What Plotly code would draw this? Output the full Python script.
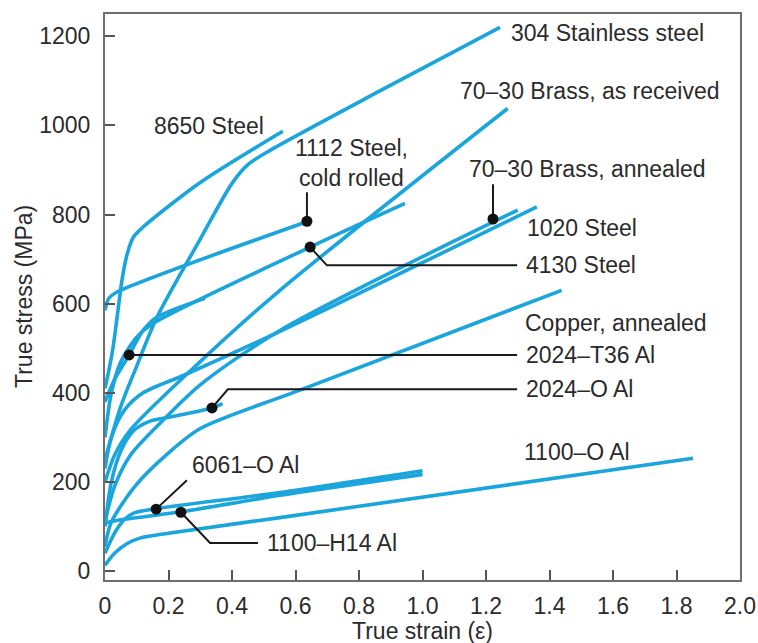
import plotly.graph_objects as go

# ---------------- data (true strain, true stress MPa) ----------------
s304_x = [0.0, 0.05, 0.10, 0.164, 0.30, 0.40, 0.45, 0.52, 0.87, 1.244]
s304_y = [250, 370, 460, 570, 745, 870, 912, 944, 1079, 1220]

s8650_x = [0.0, 0.012, 0.025, 0.04, 0.054, 0.07, 0.09, 0.12, 0.30, 0.56]
s8650_y = [410, 450, 500, 580, 655, 712, 750, 772, 872, 987]

s1112_x = [0.0, 0.012, 0.035, 0.64]
s1112_y = [585, 612, 625, 785]

brass_rec_x = [0.0, 0.03, 0.079, 0.3, 0.551, 1.268]
brass_rec_y = [200, 260, 316, 470, 630, 1038]

s4130_x = [0.0, 0.02, 0.05, 0.1, 0.15, 0.646, 0.945]
s4130_y = [300, 400, 470, 525, 555, 727, 825]

al2024t36_x = [0.0, 0.03, 0.076, 0.12, 0.164, 0.315]
al2024t36_y = [380, 430, 485, 540, 570, 612]

s1020_x = [0.0, 0.02, 0.06, 0.12, 0.25, 0.551, 1.36]
s1020_y = [230, 300, 360, 400, 440, 538, 817]

brass_ann_x = [0.0, 0.03, 0.08, 0.164, 0.3, 0.551, 1.30]
brass_ann_y = [110, 190, 260, 325, 418, 540, 810]

copper_x = [0.0, 0.02, 0.1, 0.195, 0.3, 0.614, 1.438]
copper_y = [55, 110, 195, 262, 320, 406, 630]

al2024o_x = [0.0, 0.02, 0.05, 0.09, 0.14, 0.2, 0.336, 0.37]
al2024o_y = [100, 200, 270, 315, 336, 345, 366, 376]

al6061o_x = [0.0, 0.03, 0.06, 0.09, 0.16, 0.55, 1.0]
al6061o_y = [40, 85, 115, 130, 140, 176, 225]

al1100h14_x = [0.0, 0.05, 0.24, 0.55, 1.0]
al1100h14_y = [108, 115, 133, 170, 217]

al1100o_x = [0.0, 0.03, 0.07, 0.11, 0.2, 0.551, 1.852]
al1100o_y = [13, 40, 62, 74, 85, 120, 253]

# marker dots on curves (strain, stress)
dot_x = [0.636, 0.646, 1.222, 0.076, 0.337, 0.161, 0.239]
dot_y = [785, 727, 790, 485, 366, 139, 132]

x_ticks = [0, 0.2, 0.4, 0.6, 0.8, 1.0, 1.2, 1.4, 1.6, 1.8, 2.0]
x_ticktext = ["0", "0.2", "0.4", "0.6", "0.8", "1.0", "1.2", "1.4", "1.6", "1.8", "2.0"]
y_ticks = [0, 200, 400, 600, 800, 1000, 1200]

# ---------------- figure ----------------
BLUE = "#1AA5DD"
TXT = "#2b2b2b"
FONT = "Liberation Sans, Arial, sans-serif"
FS = 23

curves = [
    (s304_x, s304_y), (s8650_x, s8650_y), (s1112_x, s1112_y),
    (brass_rec_x, brass_rec_y), (s4130_x, s4130_y), (al2024t36_x, al2024t36_y),
    (s1020_x, s1020_y), (brass_ann_x, brass_ann_y), (copper_x, copper_y),
    (al2024o_x, al2024o_y), (al6061o_x, al6061o_y), (al1100h14_x, al1100h14_y),
    (al1100o_x, al1100o_y),
]

fig = go.Figure()
for cx, cy in curves:
    fig.add_trace(go.Scatter(x=cx, y=cy, mode="lines",
                             line=dict(color=BLUE, width=3.6, shape="spline", smoothing=0.8),
                             hoverinfo="skip", showlegend=False))

# leader lines (data coords)
leaders = [
    ([0.636, 0.636], [785, 850]),
    ([0.646, 0.699, 1.298], [727, 686, 686]),
    ([1.222, 1.222], [790, 868]),
    ([0.076, 1.298], [485, 485]),
    ([0.337, 0.387, 1.298], [366, 408, 408]),
    ([0.161, 0.258], [139, 204]),
    ([0.239, 0.331, 0.482], [132, 63, 63]),
]
for lx, ly in leaders:
    fig.add_trace(go.Scatter(x=lx, y=ly, mode="lines", line=dict(color="#1a1a1a", width=2),
                             hoverinfo="skip", showlegend=False))

fig.add_trace(go.Scatter(x=dot_x, y=dot_y, mode="markers",
                         marker=dict(color="#111111", size=11), hoverinfo="skip", showlegend=False))

labels = [
    ("304 Stainless steel", 1.272, 1207, "left"),
    ("70–30 Brass, as received", 1.112, 1077, "left"),
    ("8650 Steel", 0.148, 998, "left"),
    ("1112 Steel,<br>cold rolled", 0.775, 915, "center"),
    ("70–30 Brass, annealed", 1.14, 902, "left"),
    ("1020 Steel", 1.323, 769, "left"),
    ("4130 Steel", 1.32, 686, "left"),
    ("Copper, annealed", 1.317, 556, "left"),
    ("2024–T36 Al", 1.32, 485, "left"),
    ("2024–O Al", 1.32, 408, "left"),
    ("1100–O Al", 1.313, 267, "left"),
    ("6061–O Al", 0.268, 238, "left"),
    ("1100–H14 Al", 0.504, 63, "left"),
]
for t, x, y, anc in labels:
    fig.add_annotation(x=x, y=y, text=t, showarrow=False, xanchor=anc, yanchor="middle",
                       align="center", font=dict(family=FONT, size=FS, color=TXT))

# axis titles
fig.add_annotation(x=0, y=0.5, xref="paper", yref="paper", text="True stress (MPa)",
                   textangle=-90, showarrow=False, xanchor="center", yanchor="middle",
                   xshift=-81, font=dict(family=FONT, size=FS, color=TXT))
fig.add_annotation(x=0.5, y=0, xref="paper", yref="paper", text="True strain (ε)",
                   showarrow=False, xanchor="center", yanchor="middle",
                   yshift=-51, font=dict(family=FONT, size=FS, color=TXT))

axis_common = dict(showgrid=False, zeroline=False, showline=True, mirror=True,
                   linecolor="#6e6e6e", linewidth=2, ticks="inside", ticklen=10,
                   tickwidth=1.5, tickcolor="#555555", automargin=False,
                   tickfont=dict(family=FONT, size=FS, color=TXT))
fig.update_xaxes(range=[0, 2.0], tickvals=x_ticks, ticktext=x_ticktext,
                 ticklabelstandoff=4, **axis_common)
fig.update_yaxes(range=[-20, 1250], tickvals=y_ticks, ticklabelstandoff=8, **axis_common)

fig.update_layout(width=758, height=643, margin=dict(l=105, r=18, t=14, b=63, autoexpand=False),
                  plot_bgcolor="white", paper_bgcolor="white")

fig.write_html("out.html", config={"displayModeBar": False},
               post_script="document.body.style.margin='0px';document.body.style.overflow='hidden';")
